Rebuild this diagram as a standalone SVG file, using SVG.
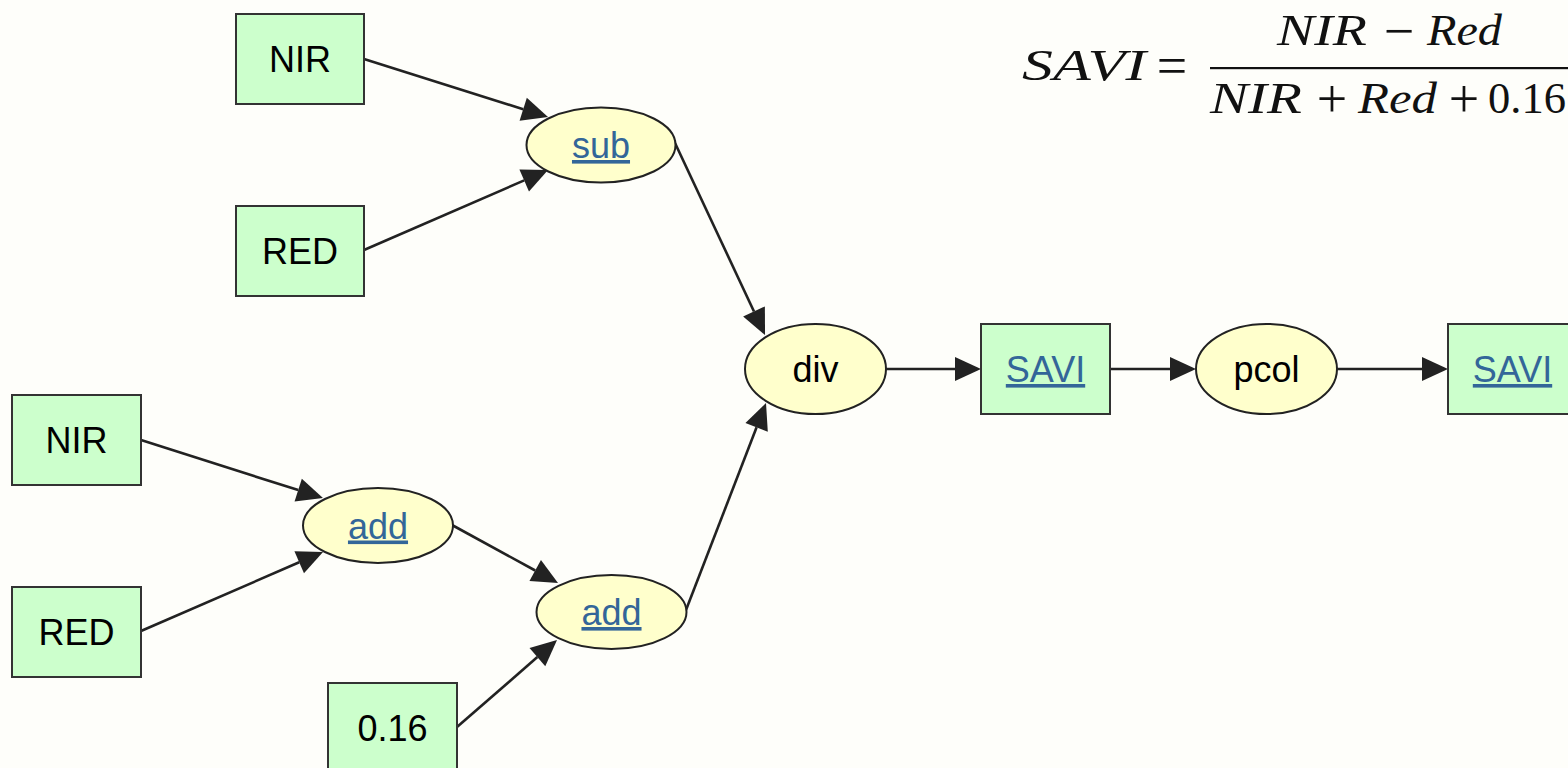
<svg xmlns="http://www.w3.org/2000/svg" width="1568" height="768" viewBox="0 0 1568 768">
  <defs>
    <style>
      .box { fill: #ccffcc; stroke: #333333; stroke-width: 2; }
      .op { fill: #ffffcc; stroke: #222222; stroke-width: 2; }
      .lbl { font-family: "Liberation Sans", Arial, sans-serif; font-size: 36px; fill: #000000; text-anchor: middle; }
      .link { fill: #336699; text-decoration: underline; }
      .edge { fill: none; stroke: #222222; stroke-width: 2.6; marker-end: url(#arrow); }
      .mi { font-family: "Liberation Serif", "Times New Roman", serif; font-style: italic; font-size: 45px; fill: #111111; }
      .mn { font-family: "Liberation Serif", "Times New Roman", serif; font-size: 45px; fill: #111111; }
      .mo { font-family: "Liberation Serif", "Times New Roman", serif; font-size: 54px; fill: #111111; text-anchor: middle; }
    </style>
    <!-- arrowhead starts where the line ends and points forward -->
    <marker id="arrow" markerUnits="userSpaceOnUse" markerWidth="26" markerHeight="24" refX="0" refY="12" orient="auto" overflow="visible">
      <path d="M0,0 L26,12 L0,24 z" fill="#222222"/>
    </marker>
  </defs>

  <rect width="1568" height="768" fill="#fefefa"/>

  <!-- formula: SAVI = (NIR - Red) / (NIR + Red + 0.16) -->
  <g id="formula">
    <text class="mi" x="1022" y="80" textLength="124" lengthAdjust="spacingAndGlyphs">SAVI</text>
    <text class="mo" x="1172" y="83.6">=</text>
    <text class="mi" x="1277" y="45" textLength="90" lengthAdjust="spacingAndGlyphs">NIR</text>
    <text class="mo" x="1399" y="48.6">−</text>
    <text class="mi" x="1427" y="45" textLength="75" lengthAdjust="spacingAndGlyphs">Red</text>
    <rect x="1210" y="67" width="358" height="2.2" fill="#111111"/>
    <text class="mi" x="1210" y="113" textLength="92" lengthAdjust="spacingAndGlyphs">NIR</text>
    <text class="mo" x="1332" y="116.6">+</text>
    <text class="mi" x="1358" y="113" textLength="79" lengthAdjust="spacingAndGlyphs">Red</text>
    <text class="mo" x="1464" y="116.6">+</text>
    <text class="mn" x="1488" y="113" textLength="78" lengthAdjust="spacingAndGlyphs">0.16</text>
  </g>

  <!-- connectors -->
  <g id="edges">
    <line class="edge" x1="364" y1="59" x2="523.2" y2="109.2"/>
    <line class="edge" x1="364" y1="250" x2="524.2" y2="180.4"/>
    <line class="edge" x1="675" y1="143" x2="754.0" y2="311.5"/>
    <line class="edge" x1="141" y1="440" x2="298.2" y2="490.1"/>
    <line class="edge" x1="141" y1="631" x2="299.2" y2="562.3"/>
    <line class="edge" x1="452" y1="525" x2="535.2" y2="570.5"/>
    <line class="edge" x1="457" y1="727" x2="537.4" y2="657.1"/>
    <line class="edge" x1="686" y1="610" x2="756.6" y2="427.3"/>
    <line class="edge" x1="886" y1="369" x2="955" y2="369"/>
    <line class="edge" x1="1110" y1="369" x2="1170" y2="369"/>
    <line class="edge" x1="1337" y1="369" x2="1422" y2="369"/>
  </g>

  <!-- nodes -->
  <g id="nir1">
    <rect class="box" x="236" y="14" width="128" height="90"/>
    <text class="lbl" x="300" y="72">NIR</text>
  </g>
  <g id="red1">
    <rect class="box" x="236" y="206" width="128" height="90"/>
    <text class="lbl" x="300" y="264">RED</text>
  </g>
  <g id="sub">
    <ellipse class="op" cx="601" cy="145" rx="74.5" ry="37.5"/>
    <text class="lbl link" x="601" y="158">sub</text>
  </g>
  <g id="nir2">
    <rect class="box" x="12" y="395" width="129" height="90"/>
    <text class="lbl" x="76.5" y="453">NIR</text>
  </g>
  <g id="red2">
    <rect class="box" x="12" y="587" width="129" height="90"/>
    <text class="lbl" x="76.5" y="645">RED</text>
  </g>
  <g id="add1">
    <ellipse class="op" cx="378" cy="525.5" rx="75" ry="37.5"/>
    <text class="lbl link" x="378" y="538.5">add</text>
  </g>
  <g id="const">
    <rect class="box" x="328" y="683" width="129" height="90"/>
    <text class="lbl" x="392.5" y="741">0.16</text>
  </g>
  <g id="add2">
    <ellipse class="op" cx="611.5" cy="612" rx="75" ry="37"/>
    <text class="lbl link" x="611.5" y="625">add</text>
  </g>
  <g id="div">
    <ellipse class="op" cx="815.5" cy="369" rx="70.5" ry="45"/>
    <text class="lbl" x="815.5" y="382">div</text>
  </g>
  <g id="savi1">
    <rect class="box" x="981" y="324" width="129" height="90"/>
    <text class="lbl link" x="1045.5" y="382">SAVI</text>
  </g>
  <g id="pcol">
    <ellipse class="op" cx="1266.5" cy="369" rx="70.5" ry="45"/>
    <text class="lbl" x="1266.5" y="382">pcol</text>
  </g>
  <g id="savi2">
    <rect class="box" x="1448" y="324" width="129" height="90"/>
    <text class="lbl link" x="1512.5" y="382">SAVI</text>
  </g>
</svg>
